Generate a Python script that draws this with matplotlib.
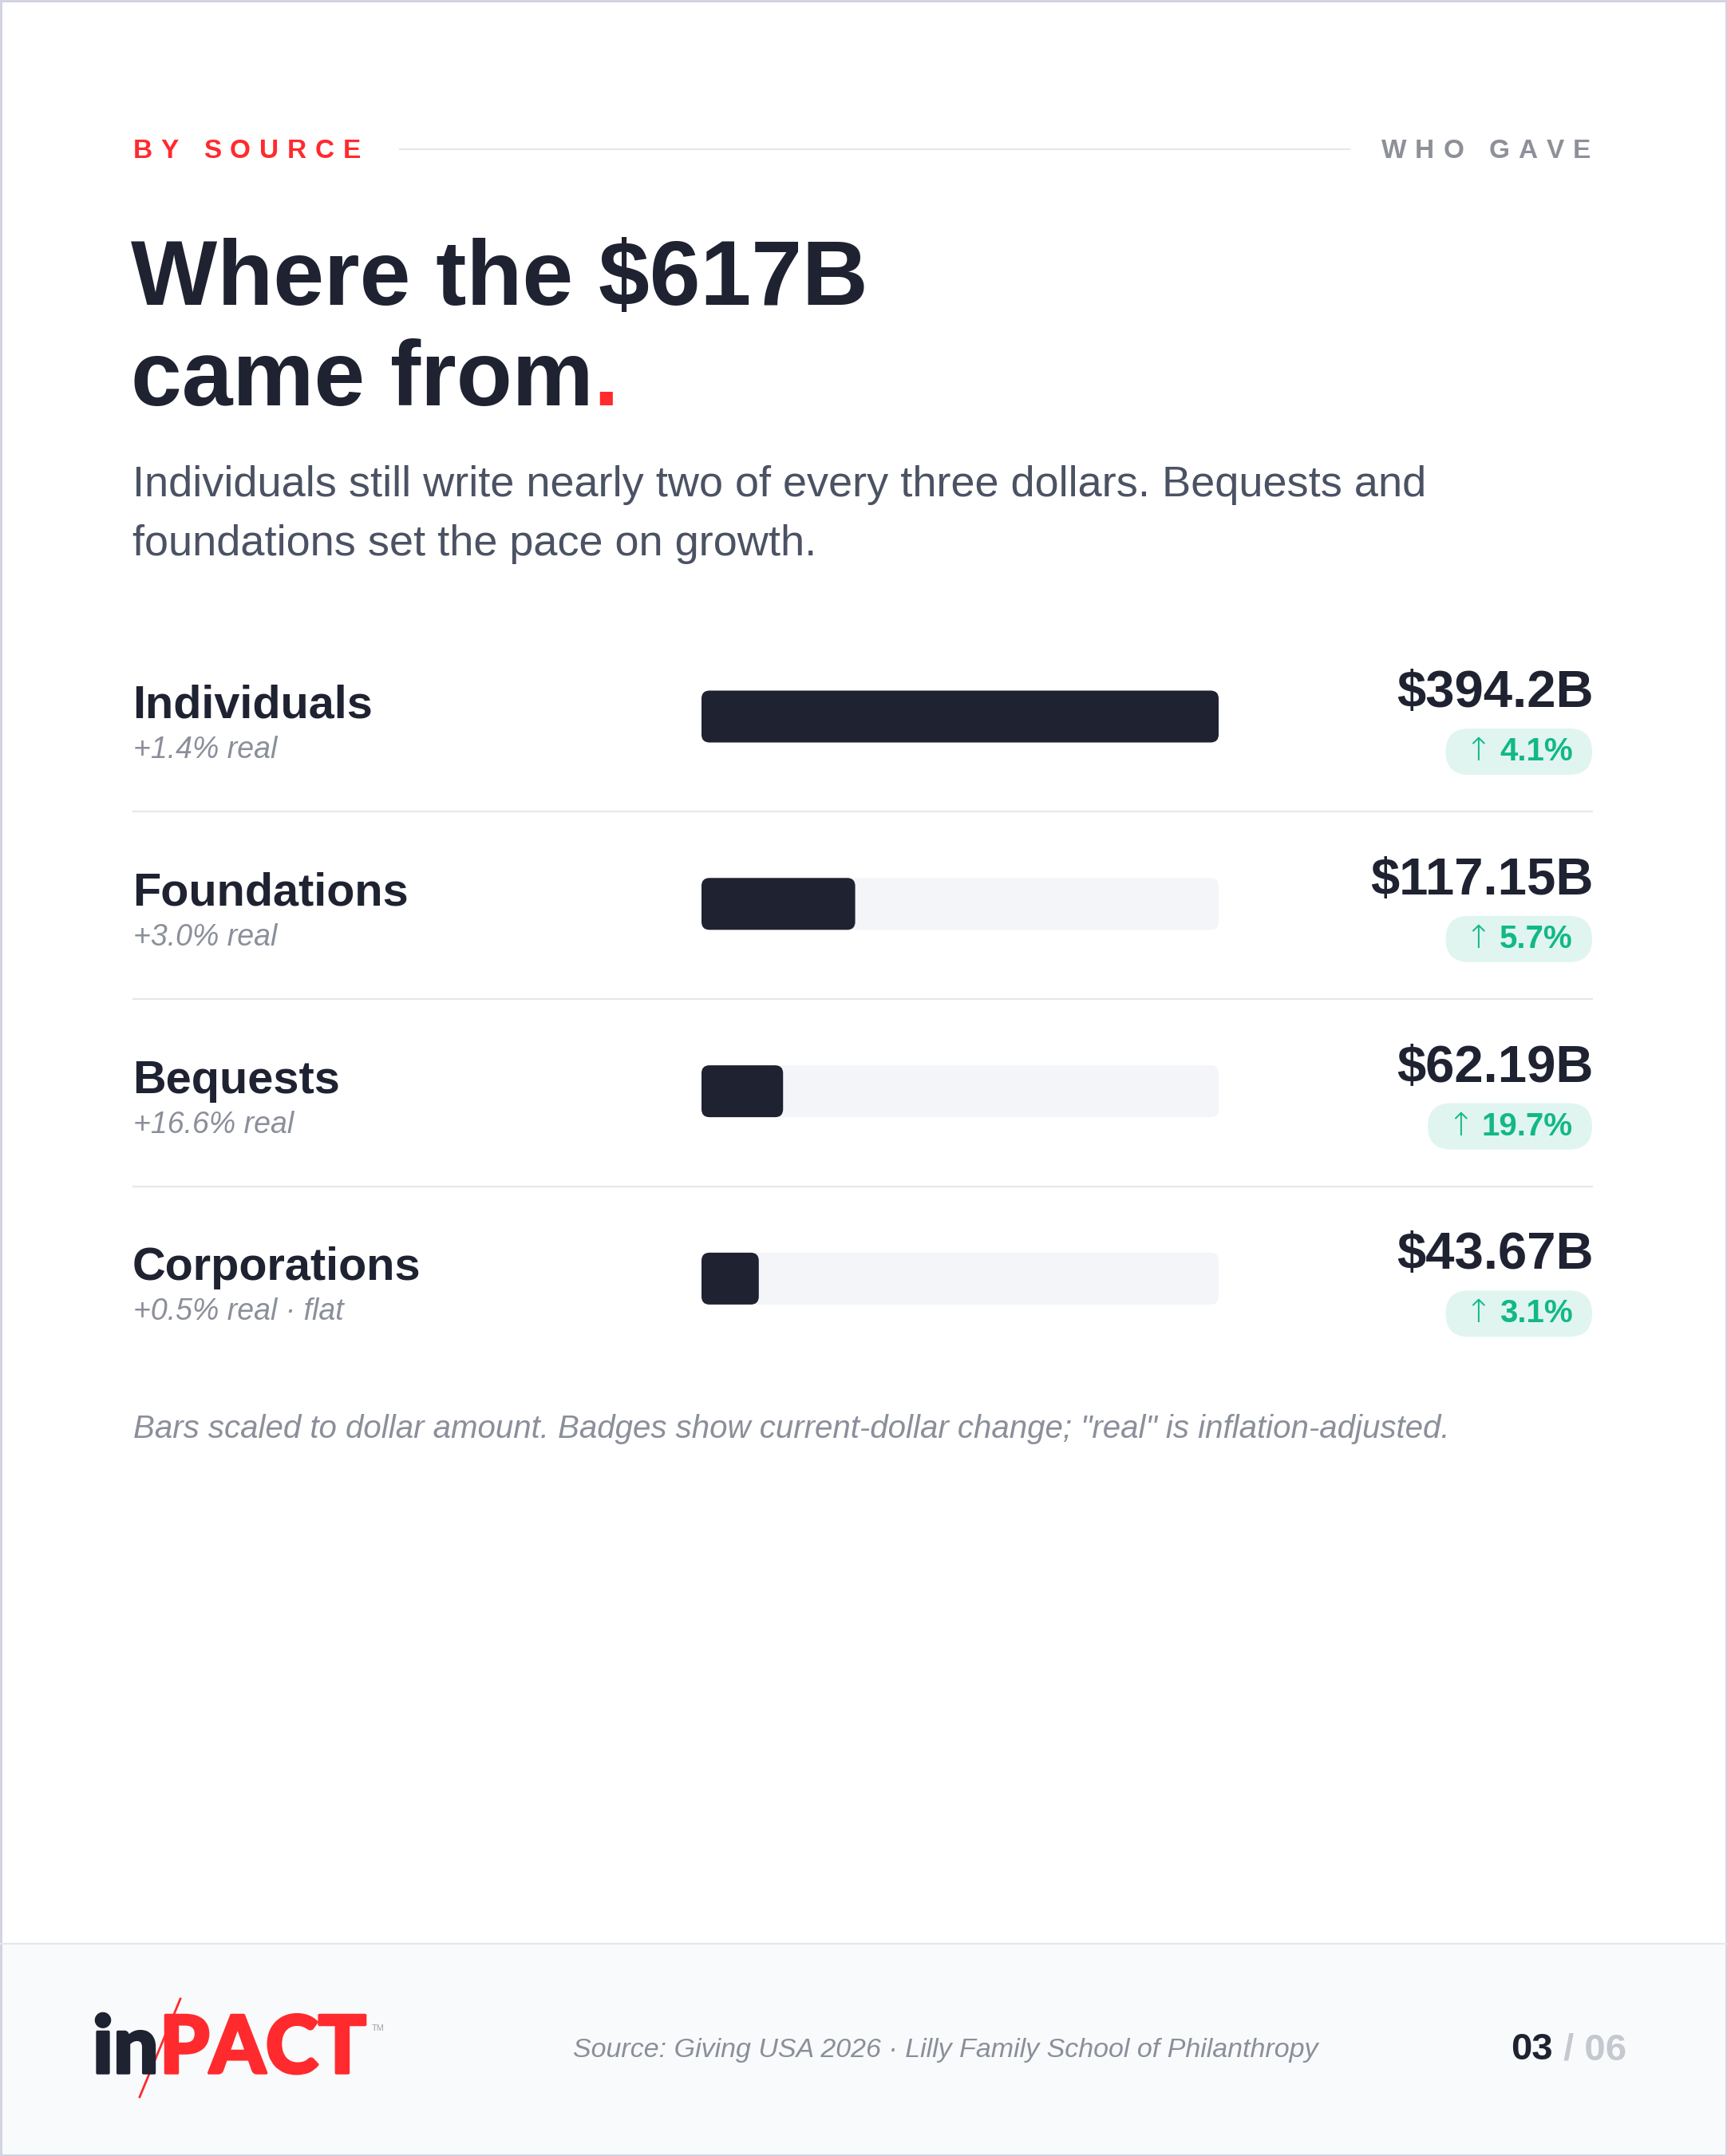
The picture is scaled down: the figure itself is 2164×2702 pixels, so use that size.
import matplotlib
matplotlib.use('Agg')
import matplotlib.pyplot as plt
import matplotlib.patheffects as pe
from matplotlib.patches import FancyBboxPatch, Rectangle, Polygon

W, H = 2164, 2702

# data
sources = ['Individuals', 'Foundations', 'Bequests', 'Corporations']
amounts = [394.2, 117.15, 62.19, 43.67]
value_labels = ['$394.2B', '$117.15B', '$62.19B', '$43.67B']
real_notes = ['+1.4% real', '+3.0% real', '+16.6% real', '+0.5% real · flat']
change_pct = [4.1, 5.7, 19.7, 3.1]

DARK = '#1f2231'
RED = '#ff2a2e'
GRAY = '#8b8f9a'
SUBGRAY = '#4b5263'
LINE = '#e5e7eb'
TRACK = '#f4f5f9'
GREEN = '#12b886'
GREEN_BG = '#e0f5f0'

plt.rcParams['font.family'] = ['Liberation Sans', 'DejaVu Sans']

fig = plt.figure(figsize=(W / 100, H / 100), dpi=100)
ax = fig.add_axes([0, 0, 1, 1])
ax.set_xlim(0, W)
ax.set_ylim(H, 0)
ax.axis('off')
r = fig.canvas.get_renderer()


def width(t):
    return t.get_window_extent(renderer=r).width


def spaced(x, y, s, size, gap, ha='left', **kw):
    # letter-spaced text, drawn char by char
    px = size * 100 / 72
    arts, ws = [], []
    for ch in s:
        if ch == ' ':
            arts.append(None)
            ws.append(px * 0.28)
        else:
            t = ax.text(0, y, ch, fontsize=size, va='baseline', **kw)
            arts.append(t)
            ws.append(width(t))
    total = sum(ws) + gap * (len(s) - 1)
    cx = x - total if ha == 'right' else x
    for t, w in zip(arts, ws):
        if t is not None:
            t.set_x(cx)
        cx += w + gap


def runs(x, y, parts, ha='left', va='baseline', gap=0):
    # several text pieces placed one after another
    arts = [ax.text(0, y, s, va=va, **kw) for s, kw in parts]
    ws = [width(t) for t in arts]
    total = sum(ws) + gap * (len(arts) - 1)
    cx = x - total if ha == 'right' else (x - total / 2 if ha == 'center' else x)
    for t, w in zip(arts, ws):
        t.set_x(cx)
        cx += w + gap
    return arts


# header
spaced(167, 198, 'BY SOURCE', 24, 10.8, color=RED, fontweight='bold')
spaced(1993, 198, 'WHO GAVE', 24, 11, ha='right', color='#8e9099', fontweight='bold')
ax.plot([500, 1692], [187, 187], color=LINE, lw=1.5, solid_capstyle='butt')

# title
ax.text(164, 382, 'Where the $617B', fontsize=82.5, fontweight='bold', color=DARK, va='baseline')
runs(164, 508, [('came from', dict(fontsize=82.5, fontweight='bold', color=DARK)),
                ('.', dict(fontsize=82.5, fontweight='bold', color=RED))])

ax.text(166, 622, 'Individuals still write nearly two of every three dollars. Bequests and',
        fontsize=39, color=SUBGRAY, va='baseline')
ax.text(166, 696, 'foundations set the pace on growth.', fontsize=39, color=SUBGRAY, va='baseline')

# rows
x0, x1 = 879, 1527
left, right = 167, 1997
row_y0, pitch = 898, 234.8
bar_h = 65
vmax = max(amounts)
for i, (name, amt, lab, note, pct) in enumerate(zip(sources, amounts, value_labels, real_notes, change_pct)):
    cy = row_y0 + i * pitch
    ax.text(left - 1, cy + 2, name, fontsize=41.5, fontweight='bold', color=DARK, va='baseline')
    ax.text(left, cy + 52, note, fontsize=27, style='italic', color=GRAY, va='baseline')

    ax.add_patch(FancyBboxPatch((x0, cy - bar_h / 2), x1 - x0, bar_h,
                                boxstyle='round,pad=0,rounding_size=10', fc=TRACK, ec='none'))
    bw = (x1 - x0) * amt / vmax
    ax.add_patch(FancyBboxPatch((x0, cy - bar_h / 2), bw, bar_h,
                                boxstyle='round,pad=0,rounding_size=10', fc=DARK, ec='none'))

    ax.text(right, cy - 12, lab, fontsize=47, fontweight='bold', color=DARK, ha='right', va='baseline')

    # badge
    by = cy + 44
    pad = 24
    gap = 10
    parts = [('↑', dict(fontsize=29, color=GREEN, family=['DejaVu Sans'], fontweight='light')),
             ('%.1f%%' % pct, dict(fontsize=29, fontweight='bold', color=GREEN))]
    tmp = [ax.text(0, 0, s, **kw) for s, kw in parts]
    tw = sum(width(t) for t in tmp) + gap
    for t in tmp:
        t.remove()
    bh = 58
    bx = right - 2 - tw - 2 * pad
    ax.add_patch(FancyBboxPatch((bx, by - bh / 2), tw + 2 * pad, bh,
                                boxstyle='round,pad=0,rounding_size=29', fc=GREEN_BG, ec='none'))
    runs(bx + pad, by + 11, parts, gap=gap)

    if i < len(sources) - 1:
        ax.plot([left, right - 2], [cy + 119, cy + 119], color=LINE, lw=1.5)

ax.text(167, 1802, 'Bars scaled to dollar amount. Badges show current-dollar change; "real" is inflation-adjusted.',
        fontsize=29, style='italic', color=GRAY, va='baseline')

# footer
ax.add_patch(Rectangle((0, 2436), W, H - 2436, fc='#f9fafb', ec='none'))
ax.plot([0, W], [2436, 2436], color=LINE, lw=1.5)

ax.text(1185, 2578, 'Source: Giving USA 2026 · Lilly Family School of Philanthropy',
        fontsize=24.5, style='italic', color=GRAY, ha='center', va='baseline')
runs(2038, 2581, [('03', dict(fontsize=34, fontweight='bold', color=DARK)),
                  (' / 06', dict(fontsize=34, fontweight='bold', color='#c5c8cf'))], ha='right')

# logo: "in" + "PACT" split by a red slash
def sx(y):
    return 224 - (y - 2509) * 49 / 119

left_clip = Polygon([(0, 2450), (sx(2450), 2450), (sx(2690), 2690), (0, 2690)],
                    transform=ax.transData)
right_clip = Polygon([(sx(2450), 2450), (700, 2450), (700, 2690), (sx(2690), 2690)],
                     transform=ax.transData)
logo_font = ['Lato', 'Roboto', 'DejaVu Sans']
t_in, t_pact = runs(116, 2598, [
    ('in', dict(fontsize=72, family=logo_font, fontweight='black', color=DARK,
                path_effects=[pe.withStroke(linewidth=2.5, foreground=DARK)])),
    ('PACT', dict(fontsize=72, family=logo_font, fontweight='black', color=RED,
                  path_effects=[pe.withStroke(linewidth=2.5, foreground=RED)]))], gap=1)
t_in.set_clip_path(left_clip)
t_pact.set_clip_path(right_clip)
ax.plot([226, 175], [2505, 2628], color=RED, lw=2)
ax.text(466, 2545, 'TM', fontsize=8, color='#a0a3ab', va='baseline')

# outer border
ax.add_patch(Rectangle((1, 1), W - 2, H - 2, fc='none', ec='#cfd1e2', lw=2))

fig.savefig('out.png', dpi=100)
